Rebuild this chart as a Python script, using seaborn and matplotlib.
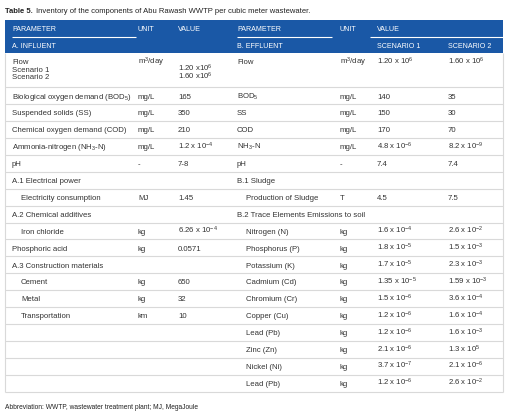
import seaborn as sns
import matplotlib.pyplot as plt
from matplotlib.patches import Rectangle

# ---- table content -------------------------------------------------------
title_bold = "Table 5."
title_rest = "Inventory of the components of Abu Rawash WWTP per cubic meter wastewater."
footnote = "Abbreviation: WWTP, wastewater treatment plant; MJ, MegaJoule"

header_left = ["PARAMETER", "UNIT", "VALUE"]
header_right = ["PARAMETER", "UNIT", "VALUE"]
section_left = "A. INFLUENT"
section_right = "B. EFFLUENT"
scenario_labels = ["SCENARIO 1", "SCENARIO 2"]

flow_label = "Flow"
flow_unit = "m$^{\\mathrm{3}}$/day"
flow_left_values = ["1.20 x10$^{\\mathrm{6}}$", "1.60 x10$^{\\mathrm{6}}$"]
flow_right_values = ["1.20 x 10$^{\\mathrm{6}}$", "1.60 x 10$^{\\mathrm{6}}$"]

left_params = ["Biological oxygen demand (BOD$_{\\mathrm{5}}$)", "Suspended solids (SS)",
               "Chemical oxygen demand (COD)", "Ammonia-nitrogen (NH$_{\\mathrm{3}}$-N)", "pH",
               "A.1 Electrical power", "Electricity consumption", "A.2 Chemical additives",
               "Iron chloride", "Phosphoric acid", "A.3 Construction materials",
               "Cement", "Metal", "Transportation", "", "", "", ""]
left_units = ["mg/L", "mg/L", "mg/L", "mg/L", "-", "", "MJ", "", "kg", "kg", "",
              "kg", "kg", "km", "", "", "", ""]
left_values = ["165", "350", "210", "1.2 x 10$^{\\mathrm{-4}}$", "7-8", "", "1.45", "",
               "6.26 x 10$^{\\mathrm{-4}}$", "0.0571", "", "650", "32", "10", "", "", "", ""]
left_subitems = {"Electricity consumption", "Iron chloride", "Cement", "Metal", "Transportation"}

right_params = ["BOD$_{\\mathrm{5}}$", "SS", "COD", "NH$_{\\mathrm{3}}$-N", "pH", "B.1 Sludge",
                "Production of Sludge", "B.2 Trace Elements Emissions to soil",
                "Nitrogen (N)", "Phosphorus (P)", "Potassium (K)", "Cadmium (Cd)",
                "Chromium (Cr)", "Copper (Cu)", "Lead (Pb)", "Zinc (Zn)", "Nickel (Ni)",
                "Lead (Pb)"]
right_units = ["mg/L", "mg/L", "mg/L", "mg/L", "-", "", "T", "",
               "kg", "kg", "kg", "kg", "kg", "kg", "kg", "kg", "kg", "kg"]
scenario1 = ["140", "150", "170", "4.8 x 10$^{\\mathrm{-6}}$", "7.4", "", "4.5", "",
             "1.6 x 10$^{\\mathrm{-4}}$", "1.8 x 10$^{\\mathrm{-5}}$", "1.7 x 10$^{\\mathrm{-5}}$",
             "1.35 x 10$^{\\mathrm{-5}}$", "1.5 x 10$^{\\mathrm{-6}}$", "1.2 x 10$^{\\mathrm{-6}}$",
             "1.2 x 10$^{\\mathrm{-6}}$", "2.1 x 10$^{\\mathrm{-6}}$", "3.7 x 10$^{\\mathrm{-7}}$",
             "1.2 x 10$^{\\mathrm{-6}}$"]
scenario2 = ["35", "30", "70", "8.2 x 10$^{\\mathrm{-9}}$", "7.4", "", "7.5", "",
             "2.6 x 10$^{\\mathrm{-2}}$", "1.5 x 10$^{\\mathrm{-3}}$", "2.3 x 10$^{\\mathrm{-3}}$",
             "1.59 x 10$^{\\mathrm{-3}}$", "3.6 x 10$^{\\mathrm{-4}}$", "1.6 x 10$^{\\mathrm{-4}}$",
             "1.6 x 10$^{\\mathrm{-3}}$", "1.3 x 10$^{\\mathrm{5}}$", "2.1 x 10$^{\\mathrm{-6}}$",
             "2.6 x 10$^{\\mathrm{-2}}$"]
right_subitems = {"Production of Sludge", "Nitrogen (N)", "Phosphorus (P)", "Potassium (K)",
                  "Cadmium (Cd)", "Chromium (Cr)", "Copper (Cu)", "Lead (Pb)", "Zinc (Zn)",
                  "Nickel (Ni)"}

# ---- style ---------------------------------------------------------------
sns.set_theme(style="white")
plt.rcParams["font.family"] = ["Liberation Sans", "DejaVu Sans"]
plt.rcParams["mathtext.fontset"] = "custom"
plt.rcParams["mathtext.rm"] = "Liberation Sans"
plt.rcParams["mathtext.it"] = "Liberation Sans:italic"
plt.rcParams["mathtext.bf"] = "Liberation Sans:bold"

BLUE = "#1a58a6"
TXT = "#333333"
GRID = "#d9d9d9"
FS = 5.55
HFS = 5.15
# half of cap height in px, used to put text baselines so caps are centred
def base(yc, fs):
    return yc + 0.36 * fs * 100 / 72

# column x positions (px)
xl_param, xl_unit, xl_val = 12, 138, 178
xr_param, xr_unit, xr_s1, xr_s2 = 237, 340, 377, 448
indent = 9
x0, x1 = 5, 503

# row geometry (px)
head_top, head_mid, head_bot = 20, 37.3, 53.3
flow_bot = 87.3
row_h = 16.9
n_rows = len(left_params)
table_bot = flow_bot + n_rows * row_h

fig = plt.figure(figsize=(5.10, 4.12), dpi=100)
ax = fig.add_axes([0, 0, 1, 1])
ax.set_xlim(0, 510)
ax.set_ylim(412, 0)
ax.axis("off")


def cell(x, yc, s, fs=FS, color=TXT):
    if s:
        ax.text(x, base(yc, fs), s, fontsize=fs, color=color, va="baseline")


# title
t1 = ax.text(x0, base(10, 5.5), title_bold, fontsize=5.5, fontweight="bold",
             color="#222222", va="baseline")
ax.annotate(title_rest, xy=(1, 0), xycoords=t1, xytext=(2.5, 0), textcoords="offset points",
            fontsize=5.5, color="#222222", va="bottom")

# header band
ax.add_patch(Rectangle((x0, head_top), x1 - x0, head_bot - head_top, color=BLUE, lw=0))
ax.hlines(head_mid, xl_param, 136, color="white", lw=0.8)
ax.hlines(head_mid, xr_param, 332, color="white", lw=0.8)
ax.hlines(head_mid, 370, x1, color="white", lw=0.8)
hy1 = (head_top + head_mid) / 2 - 0.5
hy2 = (head_mid + head_bot) / 2
for x, s in zip([xl_param, xl_unit, xl_val], header_left):
    cell(x, hy1, s, HFS, "white")
for x, s in zip([xr_param, xr_unit, xr_s1], header_right):
    cell(x, hy1, s, HFS, "white")
cell(xl_param, hy2, section_left, HFS, "white")
cell(xr_param, hy2, section_right, HFS, "white")
for x, s in zip([xr_s1, xr_s2], scenario_labels):
    cell(x, hy2, s, HFS, "white")

# flow row
fy = [61.7, 69.2, 76.7]
cell(xl_param, fy[0], flow_label)
cell(xl_param, fy[1], "Scenario 1")
cell(xl_param, fy[2], "Scenario 2")
cell(xl_unit, fy[0], flow_unit)
for y, s in zip(fy[1:], flow_left_values):
    cell(xl_val, y, s)
cell(xr_param, fy[0], flow_label)
cell(xr_unit, fy[0], flow_unit)
for x, s in zip([xr_s1, xr_s2], flow_right_values):
    cell(x, fy[0], s)

# body rows
for i in range(n_rows):
    yc = flow_bot + (i + 0.5) * row_h
    lp = left_params[i]
    rp = right_params[i]
    cell(xl_param + (indent if lp in left_subitems else 0), yc, lp)
    cell(xl_unit, yc, left_units[i])
    cell(xl_val, yc, left_values[i])
    cell(xr_param + (indent if rp in right_subitems else 0), yc, rp)
    cell(xr_unit, yc, right_units[i])
    cell(xr_s1, yc, scenario1[i])
    cell(xr_s2, yc, scenario2[i])

# grid lines
seps = [flow_bot + k * row_h for k in range(n_rows + 1)]
ax.hlines(seps, x0, x1, color=GRID, lw=0.8)
ax.vlines([x0, x1], head_bot, table_bot, color=GRID, lw=0.8)

# footnote
cell(x0, 407, footnote, 4.75, "#222222")

fig.savefig("out.png", dpi=100)
